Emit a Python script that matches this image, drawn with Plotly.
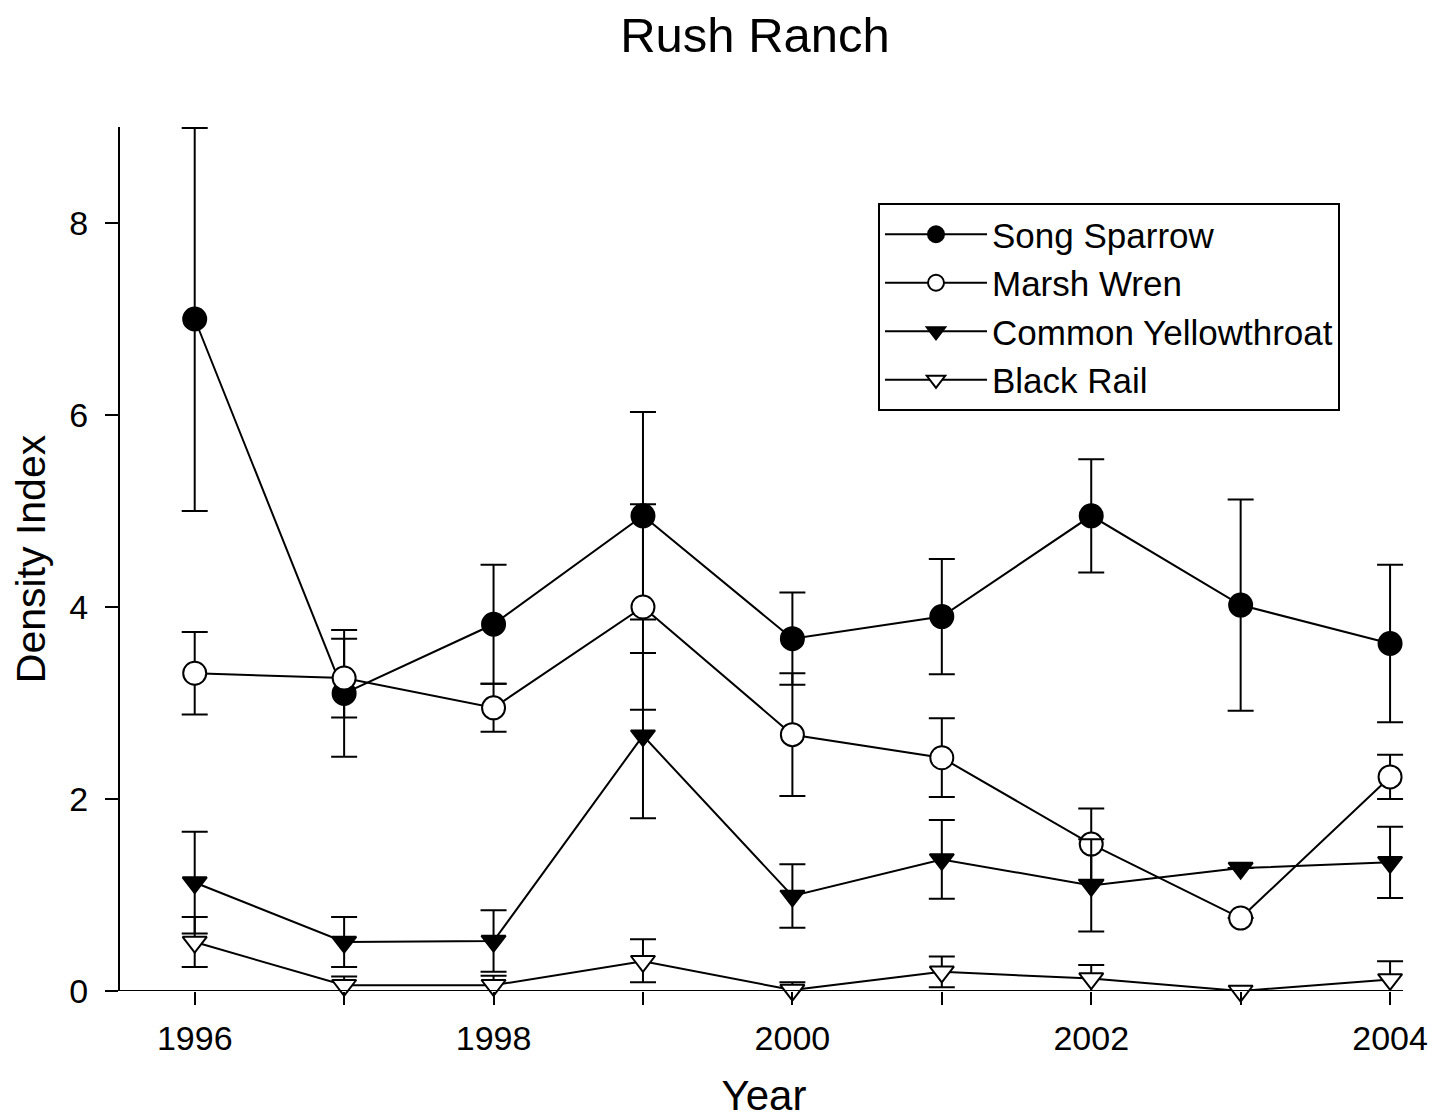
import plotly.graph_objects as go

years = [1996, 1997, 1998, 1999, 2000, 2001, 2002, 2003, 2004]
x_ticktext = ["1996", "", "1998", "", "2000", "", "2002", "", "2004"]
y_tickvals = [0, 2, 4, 6, 8]

song_sparrow = [7.00, 3.10, 3.82, 4.95, 3.67, 3.90, 4.95, 4.02, 3.62]
song_sparrow_err_up = [1.99, 0.66, 0.62, 1.08, 0.48, 0.60, 0.59, 1.10, 0.82]
song_sparrow_err_dn = [2.00, 0.66, 0.62, 1.08, 0.48, 0.60, 0.59, 1.10, 0.82]

marsh_wren = [3.31, 3.26, 2.95, 4.00, 2.67, 2.43, 1.53, 0.76, 2.23]
marsh_wren_err_up = [0.43, 0.41, 0.25, 1.07, 0.64, 0.41, 0.37, 0.0, 0.23]
marsh_wren_err_dn = [0.43, 0.41, 0.25, 1.07, 0.64, 0.41, 0.37, 0.0, 0.23]

yellowthroat = [1.13, 0.51, 0.52, 2.66, 0.99, 1.37, 1.10, 1.28, 1.34]
yellowthroat_err_up = [0.53, 0.26, 0.32, 0.86, 0.33, 0.41, 0.48, 0.0, 0.37]
yellowthroat_err_dn = [0.53, 0.26, 0.32, 0.86, 0.33, 0.41, 0.48, 0.0, 0.37]

black_rail = [0.51, 0.06, 0.06, 0.31, 0.01, 0.20, 0.13, 0.00, 0.12]
black_rail_err_up = [0.26, 0.09, 0.10, 0.23, 0.08, 0.16, 0.14, 0.0, 0.19]
black_rail_err_dn = [0.26, 0.06, 0.06, 0.22, 0.01, 0.16, 0.13, 0.0, 0.12]

x_start, x_end = 1995.5, 2004
y_min, y_max = 0, 9

FONT = "Liberation Sans, Arial, sans-serif"

series = [
    ("Song Sparrow", song_sparrow, song_sparrow_err_up, song_sparrow_err_dn, "circle", "black", 23),
    ("Marsh Wren", marsh_wren, marsh_wren_err_up, marsh_wren_err_dn, "circle", "white", 23),
    ("Common Yellowthroat", yellowthroat, yellowthroat_err_up, yellowthroat_err_dn, "triangle-down", "black", 21),
    ("Black Rail", black_rail, black_rail_err_up, black_rail_err_dn, "triangle-down", "white", 21),
]

fig = go.Figure()
for name, vals, eu, ed, sym, fill, size in series:
    fig.add_trace(go.Scatter(
        x=years, y=vals, name=name, mode="lines+markers",
        line=dict(color="black", width=2),
        marker=dict(symbol=sym, size=size, color=fill,
                    line=dict(color="black", width=2)),
        error_y=dict(type="data", array=eu, arrayminus=ed, symmetric=False,
                     color="black", thickness=2, width=13),
        cliponaxis=False,
    ))

W, H = 1429, 1111
ML, MR, MT, MB = 112, 29, 119, 128

# x axis line drawn only up to the last year (range padded so end caps are not clipped)
fig.add_shape(type="line", xref="x", yref="y", x0=x_start, x1=x_end, y0=y_min, y1=y_min,
              line=dict(color="black", width=2), layer="above")

fig.update_layout(
    width=W, height=H,
    margin=dict(l=ML, r=MR, t=MT, b=MB, autoexpand=False),
    plot_bgcolor="white", paper_bgcolor="white",
    font=dict(family=FONT, color="black"),
    title=dict(text="Rush Ranch", x=0.5 * (1270 / (W - ML - MR)), xref="paper", xanchor="center",
               y=1 - 27 / H, yref="container", yanchor="middle",
               font=dict(size=49, family=FONT, color="black")),
    showlegend=True,
    legend=dict(x=(878 - 120) / (W - ML - MR), y=(991 - 203) / (H - MT - MB),
                xanchor="left", yanchor="top",
                bordercolor="black", borderwidth=2, bgcolor="white",
                font=dict(size=35, family=FONT, color="black"),
                itemwidth=102, tracegroupgap=0),
)

fig.update_xaxes(
    range=[x_start, 2004.12], tickvals=years, ticktext=x_ticktext,
    showline=False, showgrid=False, zeroline=False, automargin=False,
    ticks="outside", ticklen=13, tickwidth=2, tickcolor="black",
    tickfont=dict(size=34, family=FONT, color="black"),
    ticklabelstandoff=4,
    title=dict(text="Year", font=dict(size=42, family=FONT, color="black"), standoff=26),
)
fig.update_yaxes(
    range=[y_min, y_max], tickvals=y_tickvals,
    showline=True, linecolor="black", linewidth=2, showgrid=False, zeroline=False,
    automargin=False,
    ticks="outside", ticklen=13, tickwidth=2, tickcolor="black",
    tickfont=dict(size=34, family=FONT, color="black"),
    ticklabelstandoff=10,
    title=dict(text="Density Index", font=dict(size=41, family=FONT, color="black"), standoff=12),
)

fig.write_html("out.html")
